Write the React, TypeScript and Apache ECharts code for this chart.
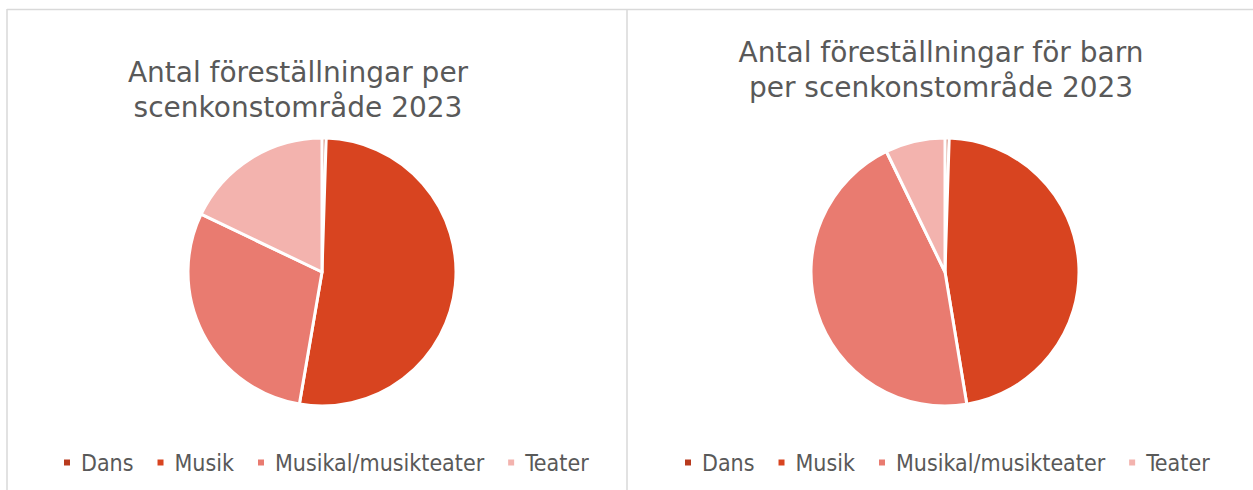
import React, { useEffect, useRef } from "react";
import * as echarts from "echarts";

const categories = ["Dans", "Musik", "Musikal/musikteater", "Teater"];
const totalShares = [0.5, 52.2, 29.4, 17.9];
const childShares = [0.5, 46.9, 45.4, 7.2];
const colors = ["#B83A1E", "#D84420", "#E97B70", "#F3B3AE"];
const titleLeft = "Antal föreställningar per\nscenkonstområde 2023";
const titleRight = "Antal föreställningar för barn\nper scenkonstområde 2023";

const FONT = "'DejaVu Sans', sans-serif";
const LEGEND_FONT = "'DejaVu Sans Condensed', 'DejaVu Sans', sans-serif";

export default function App() {
  const ref = useRef<HTMLDivElement>(null);
  useEffect(() => {
    if (!ref.current) return;
    const chart = echarts.init(ref.current, null, { renderer: "svg" });
    const mk = (vals: number[]) =>
      categories.map((c, i) => ({ name: c, value: vals[i], itemStyle: { color: colors[i] } }));
    const legendBase = {
      data: categories,
      icon: "rect",
      itemWidth: 8,
      itemHeight: 8,
      itemGap: 22,
      selectedMode: false,
      textStyle: { fontSize: 23, color: "#595959", fontFamily: LEGEND_FONT, padding: [0, 0, 0, 5] },
      top: 446,
    };
    chart.setOption({
      animation: false,
      backgroundColor: "#ffffff",
      title: [
        {
          text: titleLeft,
          left: 293,
          top: 50,
          textAlign: "center",
          textStyle: { fontSize: 28, fontWeight: "normal", color: "#595959", lineHeight: 35, fontFamily: FONT },
        },
        {
          text: titleRight,
          left: 936,
          top: 30,
          textAlign: "center",
          textStyle: { fontSize: 28, fontWeight: "normal", color: "#595959", lineHeight: 35, fontFamily: FONT },
        },
      ],
      legend: [
        { ...legendBase, left: 57 },
        { ...legendBase, left: 678 },
      ],
      graphic: [
        { type: "line", shape: { x1: 7, y1: 9.5, x2: 1253, y2: 9.5 }, style: { stroke: "#D9D9D9", lineWidth: 1.5 } },
        { type: "line", shape: { x1: 7, y1: 9, x2: 7, y2: 490 }, style: { stroke: "#D9D9D9", lineWidth: 1.5 } },
        { type: "line", shape: { x1: 627, y1: 9, x2: 627, y2: 490 }, style: { stroke: "#D9D9D9", lineWidth: 1.5 } },
      ],
      series: [
        {
          type: "pie",
          center: [322, 272],
          radius: 134,
          startAngle: 90,
          clockwise: true,
          label: { show: false },
          labelLine: { show: false },
          itemStyle: { borderColor: "#ffffff", borderWidth: 3 },
          emphasis: { disabled: true },
          data: mk(totalShares),
        },
        {
          type: "pie",
          center: [945, 272],
          radius: 134,
          startAngle: 90,
          clockwise: true,
          label: { show: false },
          labelLine: { show: false },
          itemStyle: { borderColor: "#ffffff", borderWidth: 3 },
          emphasis: { disabled: true },
          data: mk(childShares),
        },
      ],
    });
    return () => chart.dispose();
  }, []);
  return (
    <div style={{ position: "absolute", left: 0, top: 0, width: 1253, height: 490 }}>
      <div ref={ref} style={{ width: 1253, height: 490 }} />
    </div>
  );
}
